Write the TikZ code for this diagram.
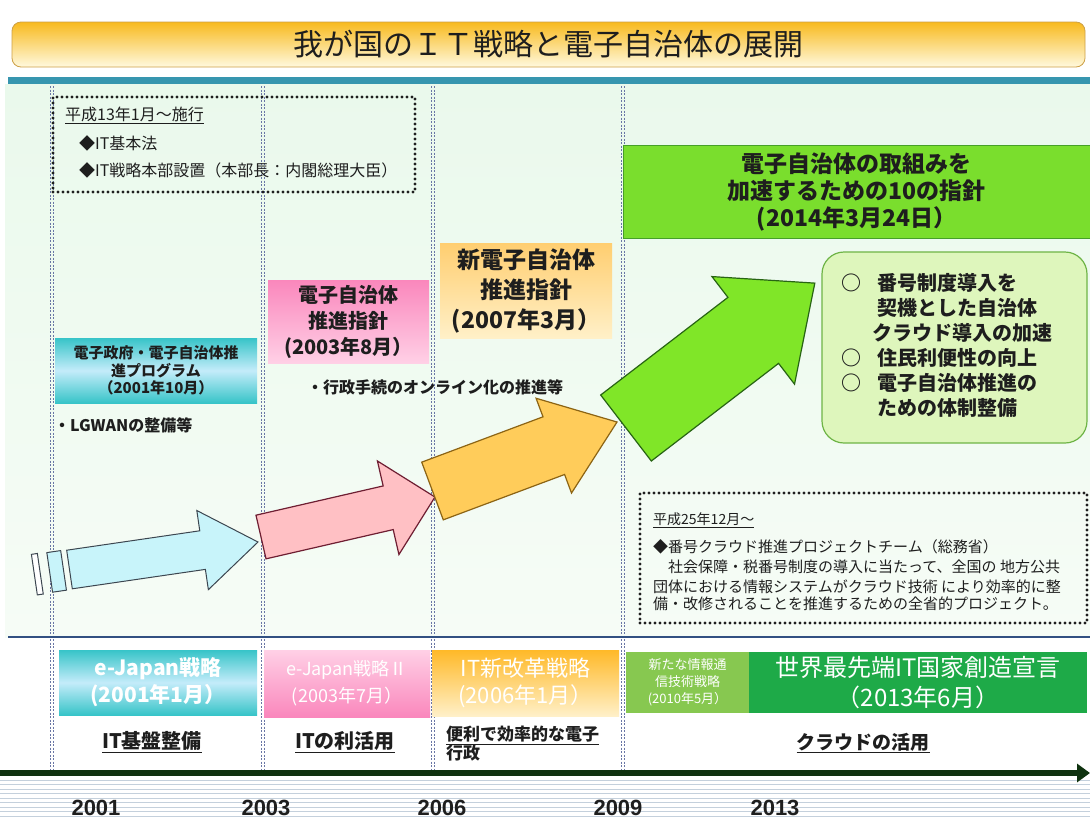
\documentclass[tikz,border=0pt]{standalone}
\usepackage{fontspec}
\setmainfont{Noto Sans CJK JP}
\newfontfamily\yearfont{Liberation Sans}
\usetikzlibrary{arrows.meta,positioning}

\definecolor{ink}{RGB}{30,30,30}
\definecolor{titleA}{RGB}{248,186,30}
\definecolor{titleB}{RGB}{255,249,222}
\definecolor{titleline}{RGB}{205,160,70}
\definecolor{bandteal}{RGB}{55,150,175}
\definecolor{bgtop}{RGB}{234,249,236}
\definecolor{bgbot}{RGB}{246,252,246}
\definecolor{vline}{RGB}{105,118,165}
\definecolor{sepblue}{RGB}{50,80,130}
\definecolor{stripe}{RGB}{196,208,220}
\definecolor{tealA}{RGB}{55,196,200}
\definecolor{tealB}{RGB}{196,236,250}
\definecolor{pinkA}{RGB}{250,135,188}
\definecolor{pinkB}{RGB}{255,208,230}
\definecolor{orngA}{RGB}{255,206,112}
\definecolor{orngB}{RGB}{255,240,200}
\definecolor{lime}{RGB}{122,222,45}
\definecolor{limeline}{RGB}{70,160,40}
\definecolor{softgreen}{RGB}{222,246,188}
\definecolor{softline}{RGB}{110,180,70}
\definecolor{ngreen}{RGB}{135,200,80}
\definecolor{dgreen}{RGB}{30,170,72}
\definecolor{axisgreen}{RGB}{15,50,15}

% block arrow: length, shaft half width, head length, head half width, style
\newcommand{\fatarrow}[5]{%
  \filldraw[#5] (0,-#2) -- ({#1-#3},-#2) -- ({#1-#3},-#4) -- (#1,0)
    -- ({#1-#3},#4) -- ({#1-#3},#2) -- (0,#2) -- cycle;}

\begin{document}
\begin{tikzpicture}[x=1pt,y=-1pt,
  every node/.style={inner sep=0pt,text=ink},
  fs/.style 2 args={font=\fontsize{#1}{#2}\selectfont},
  fsb/.style 2 args={font=\fontsize{#1}{#2}\selectfont\bfseries},
  titlebar/.style={draw=titleline,line width=0.8pt,rounded corners=9pt,top color=titleA,bottom color=titleB},
  dotbox/.style={draw=ink,line width=3.2pt,dash pattern=on 0pt off 5pt,line cap=round},
  vguide/.style={draw=vline,line width=1.1pt,dash pattern=on 2pt off 1.5pt},
  tealbox/.style={top color=tealA,bottom color=tealA,middle color=tealB},
  pinkbox/.style={top color=pinkA,bottom color=pinkB},
  orangebox/.style={top color=orngA,bottom color=orngB},
  limebox/.style={fill=lime,draw=limeline,line width=0.8pt},
  roundbox/.style={fill=softgreen,draw=softline,line width=1.2pt,rounded corners=22pt},
  whitetext/.style={text=white},
  underlabel/.style={fsb={#1}{#1}},
  yearlabel/.style={font=\yearfont\fontsize{22}{24}\selectfont\bfseries},
  arrowblue/.style={fill={rgb,255:red,200;green,244;blue,250},draw={rgb,255:red,60;green,70;blue,80},line width=1pt},
  arrowpink/.style={fill={rgb,255:red,255;green,192;blue,196},draw={rgb,255:red,110;green,30;blue,50},line width=1.2pt},
  arroworange/.style={fill={rgb,255:red,255;green,204;blue,90},draw={rgb,255:red,140;green,100;blue,20},line width=1.2pt},
  arrowgreen/.style={fill={rgb,255:red,128;green,230;blue,40},draw={rgb,255:red,40;green,100;blue,20},line width=1.2pt},
  timeaxis/.style={draw=axisgreen,line width=6pt,-{Triangle[length=13pt,width=18pt]}}]
\useasboundingbox (0,0) rectangle (1090,820);

% backdrop
\fill[white] (0,0) rectangle (1090,820);
\fill[top color=bgtop,bottom color=bgbot] (5,84) rectangle (1090,637);
\fill[bandteal] (8,77) rectangle (1090,84);
\foreach \y in {780,784.5,...,820} \draw[stripe,line width=0.9pt] (0,\y) -- (1090,\y);

% year guides
\foreach \x in {52,263,433,623} {
  \draw[vguide] (\x-1.3,86) -- (\x-1.3,770);
  \draw[vguide] (\x+1.3,86) -- (\x+1.3,770);
}
\draw[sepblue,line width=1.2pt] (8,637) -- (1090,637);

% title
\node[titlebar,minimum width=1073,minimum height=45,fs={30}{36}] (title) at (548.5,44.5) {我が国のＩＴ戦略と電子自治体の展開};

% IT basic law
\node[dotbox,minimum width=362,minimum height=95] (lawbox) at (234,144.5) {};
\node[fs={16}{20},anchor=west] (law1) at (65,115) {\underline{平成13年1月～施行}};
\node[fs={16}{20},anchor=west] (law2) at (79,143) {◆IT基本法};
\node[fs={16}{20},anchor=west] (law3) at (79,170) {◆IT戦略本部設置（本部長：内閣総理大臣）};

% guidelines for local government
\node[tealbox,minimum width=202,minimum height=65,fsb={15}{17.5},align=center] (egovprog) at (156,370.5) {電子政府・電子自治体推\\進プログラム\\（2001年10月）};
\node[fsb={16}{20},anchor=west] (lgwan) at (54,425) {・LGWANの整備等};
\node[pinkbox,minimum width=161,minimum height=83,fsb={20}{26},align=center] (egovguide) at (348.5,321.5) {電子自治体\\推進指針\\(2003年8月）};
\node[fsb={16}{20},anchor=west] (online) at (307,387) {・行政手続のオンライン化の推進等};
\node[orangebox,minimum width=172,minimum height=95,fsb={23}{30},align=center] (newguide) at (526,290.5) {新電子自治体\\推進指針\\(2007年3月）};
\node[limebox,minimum width=467,minimum height=93,fsb={23}{27},align=center] (tenpoints) at (856.5,191.5) {電子自治体の取組みを\\加速するための10の指針\\(2014年3月24日）};
\node[roundbox,minimum width=265,minimum height=191] (focus) at (954.5,347.5) {};
\node[fsb={20}{25},align=left,anchor=west] (focustext) at (841,345) {○\hspace*{16pt}番号制度導入を\\\hspace*{36pt}契機とした自治体\\\hspace*{31pt}クラウド導入の加速\\○\hspace*{16pt}住民利便性の向上\\○\hspace*{16pt}電子自治体推進の\\\hspace*{36pt}ための体制整備};

% block arrows
\begin{scope}[shift={(69.5,569.5)},rotate=8.3]
  \filldraw[arrowblue] (-20,-20) rectangle (-6,20);
  \filldraw[fill=white,draw={rgb,255:red,60;green,70;blue,80},line width=1pt] (-35.5,-20.5) rectangle (-29.5,20.5);
  \fatarrow{190.5}{19.5}{56}{40}{arrowblue}
\end{scope}
\begin{scope}[shift={(261,537)},rotate=12.95]
  \fatarrow{178.5}{22.4}{48}{48}{arrowpink}
\end{scope}
\begin{scope}[shift={(432.5,491)},rotate=20.5]
  \fatarrow{197}{30.8}{67.5}{50.6}{arroworange}
\end{scope}
\begin{scope}[shift={(626,428)},rotate=37.5]
  \fatarrow{238}{41.6}{77.6}{67.8}{arrowgreen}
\end{scope}

% number cloud team
\node[dotbox,minimum width=447,minimum height=130] (teambox) at (863.5,558) {};
\node[fs={14}{18},anchor=west] (team1) at (653,520) {\underline{平成25年12月～}};
\node[fs={15}{18},anchor=west] (team2) at (653,547) {◆番号クラウド推進プロジェクトチーム（総務省）};
\node[fs={15}{18},anchor=west] (team3) at (653,567) {\hspace*{15pt}社会保障・税番号制度の導入に当たって、全国の 地方公共};
\node[fs={15}{18},anchor=west] (team4) at (653,587) {団体における情報システムがクラウド技術 により効率的に整};
\node[fs={15}{18},anchor=west] (team5) at (653,604) {備・改修されることを推進するための全省的プロジェクト。};

% national IT strategies
\node[tealbox,whitetext,minimum width=198,minimum height=65,fsb={21}{27},align=center] (ejapan) at (158,682.5) {e-Japan戦略\\(2001年1月）};
\node[pinkbox,whitetext,top color=pinkB,middle color=white!40!pinkB,bottom color=pinkA,minimum width=166,minimum height=67,fs={18}{27},align=center] (ejapantwo) at (347,683.5) {e-Japan戦略Ⅱ\\(2003年7月）};
\node[orangebox,whitetext,top color={rgb,255:red,255;green,185;blue,40},bottom color=orngB,minimum width=187,minimum height=66,fs={22}{27},align=center] (itreform) at (525.5,683) {IT新改革戦略\\(2006年1月）};
\node[fill=ngreen,whitetext,minimum width=123,minimum height=61,fs={13}{17},align=center] (newinfo) at (687.5,682.5) {新たな情報通\\信技術戦略\\(2010年5月）};
\node[fill=dgreen,whitetext,minimum width=338,minimum height=61,fs={24}{30},align=center] (sekai) at (918,682.5) {世界最先端IT国家創造宣言\\（2013年6月）};

\node[underlabel=20] (base) at (152,742) {\underline{IT基盤整備}};
\node[underlabel=20] (use) at (345,742) {\underline{ITの利活用}};
\node[fsb={17}{19},align=left,anchor=west] (efficient) at (446,744) {\underline{便利で効率的な電子}\\行政};
\node[underlabel=19] (cloud) at (863,743) {\underline{クラウドの活用}};

% time axis
\coordinate (axisstart) at (0,773);
\coordinate (axisend) at (1090,773);
\draw[timeaxis] (axisstart) -- (axisend);
\foreach \yr/\x in {2001/96,2003/266,2006/442,2009/618,2013/775}
  \node[yearlabel] (y\yr) at (\x,808) {\yr};
\end{tikzpicture}
\end{document}
